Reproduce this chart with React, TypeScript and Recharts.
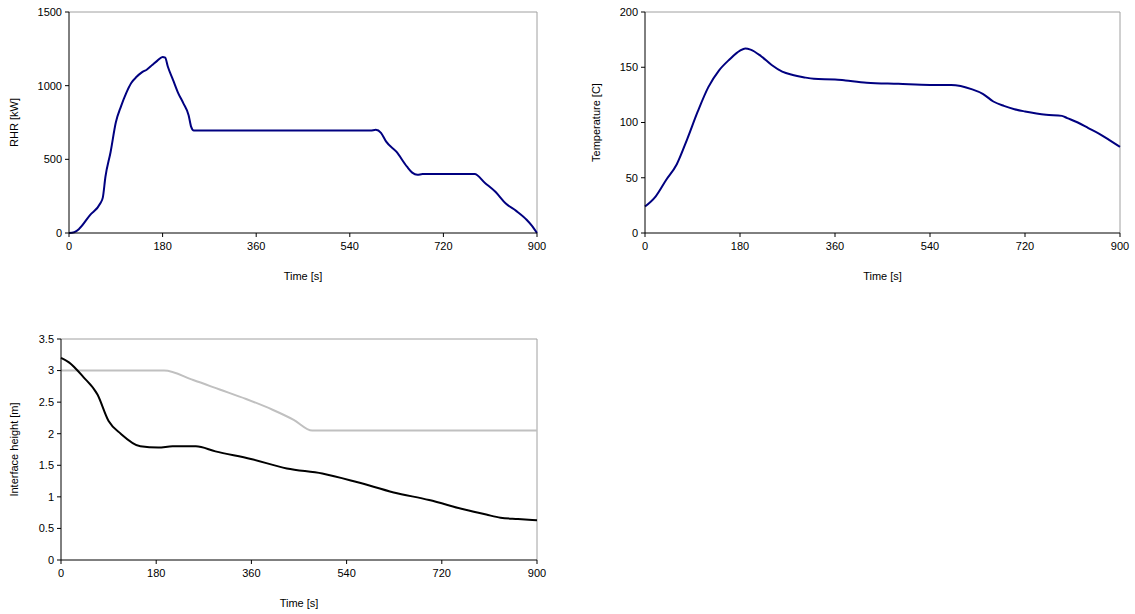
import { LineChart, Line, XAxis, YAxis, ReferenceLine } from 'recharts'

const timeTicks = [0, 180, 360, 540, 720, 900]

const rhrTime = [0, 10, 20, 40, 60, 65, 70, 80, 90, 100, 110, 120, 130, 140, 150, 160, 170, 180, 185, 190, 200, 210, 220, 230, 235, 240, 250, 580, 590, 600, 610, 630, 650, 660, 670, 680, 780, 800, 820, 840, 860, 880, 890, 900]
const rhrValue = [0, 5, 30, 120, 200, 240, 380, 550, 750, 860, 950, 1020, 1060, 1090, 1110, 1140, 1170, 1195, 1190, 1130, 1040, 950, 880, 800, 720, 695, 695, 695, 700, 680, 620, 550, 450, 410, 395, 400, 400, 340, 280, 200, 150, 90, 50, 0]
const rhrTicks = [0, 500, 1000, 1500]

const tempTime = [0, 20, 40, 60, 80, 100, 120, 140, 160, 180, 190, 200, 220, 240, 260, 280, 300, 320, 360, 380, 420, 480, 540, 580, 620, 640, 660, 680, 700, 720, 760, 790, 800, 820, 840, 860, 880, 900]
const tempValue = [24, 33, 48, 62, 85, 110, 132, 147, 157, 165, 167, 166, 160, 152, 146, 143, 141, 139.5, 139, 138, 136, 135, 134, 134, 130, 126, 119, 115, 112, 110, 107, 106, 104, 100, 95, 90, 84, 78]
const tempTicks = [0, 50, 100, 150, 200]

const heightTime = [0, 15, 42, 69, 90, 113, 150, 184, 211, 255, 292, 359, 427, 494, 561, 629, 696, 763, 804, 831, 864, 900]
const heightValue = [3.2, 3.13, 2.9, 2.62, 2.2, 2.0, 1.8, 1.78, 1.8, 1.8, 1.72, 1.6, 1.45, 1.37, 1.23, 1.07, 0.95, 0.8, 0.72, 0.67, 0.65, 0.63]
const layerTime = [0, 195, 250, 300, 350, 400, 440, 475, 900]
const layerValue = [3.0, 3.0, 2.85, 2.7, 2.55, 2.38, 2.22, 2.05, 2.05]
const heightTicks = [0, 0.5, 1, 1.5, 2, 2.5, 3, 3.5]

const font = { fontSize: 11, fill: '#000', fontFamily: 'Liberation Sans, Arial, sans-serif' }
const labelStyle = { fontSize: 11, fill: '#000', fontFamily: 'Liberation Sans, Arial, sans-serif' }

type Series = { t: number[]; v: number[]; color: string }

function Panel(props: {
  left: number; top: number; width: number; yWidth: number; yMax: number; yTicks: number[]
  yLabel: string; yLabelOffset: number; series: Series[]
}) {
  const { left, top, width, yWidth, yMax, yTicks, yLabel, yLabelOffset, series } = props
  const data: Record<string, number>[] = []
  series.forEach((s, k) => s.t.forEach((t, i) => data.push({ t, ['s' + k]: s.v[i] })))
  data.sort((a, b) => a.t - b.t)
  return (
    <div style={{ position: 'absolute', left, top }}>
      <LineChart width={width} height={300} data={data} margin={{ top: 12, right: 15, left: 0, bottom: 0 }}>
        <XAxis dataKey="t" type="number" domain={[0, 900]} ticks={timeTicks} height={67}
          tick={font} tickSize={4} tickMargin={5} stroke="#000" interval={0}
          label={{ value: 'Time [s]', position: 'insideBottom', offset: 20, style: labelStyle }} />
        <YAxis type="number" domain={[0, yMax]} ticks={yTicks} width={yWidth}
          tick={font} tickSize={4} tickMargin={3} stroke="#000" interval={0}
          label={{ value: yLabel, angle: -90, position: 'insideLeft', offset: yLabelOffset, style: { ...labelStyle, textAnchor: 'middle' } }} />
        <ReferenceLine y={yMax} stroke="#a0a0a0" />
        <ReferenceLine x={900} stroke="#a0a0a0" />
        {series.map((s, k) => (
          <Line key={k} dataKey={'s' + k} stroke={s.color} strokeWidth={2} dot={false}
            type="monotone" connectNulls isAnimationActive={false} />
        ))}
      </LineChart>
    </div>
  )
}

export default function App() {
  return (
    <div style={{ position: 'fixed', left: 0, top: 0, width: 1135, height: 614, background: '#fff' }}>
      <Panel left={0} top={0} width={552} yWidth={69} yMax={1500} yTicks={rhrTicks}
        yLabel="RHR [kW]" yLabelOffset={14}
        series={[{ t: rhrTime, v: rhrValue, color: '#000080' }]} />
      <Panel left={576} top={0} width={559} yWidth={69} yMax={200} yTicks={tempTicks}
        yLabel="Temperature [C]" yLabelOffset={20}
        series={[{ t: tempTime, v: tempValue, color: '#000080' }]} />
      <Panel left={0} top={327} width={552} yWidth={61} yMax={3.5} yTicks={heightTicks}
        yLabel="Interface height [m]" yLabelOffset={14}
        series={[{ t: layerTime, v: layerValue, color: '#c0c0c0' }, { t: heightTime, v: heightValue, color: '#000' }]} />
    </div>
  )
}
